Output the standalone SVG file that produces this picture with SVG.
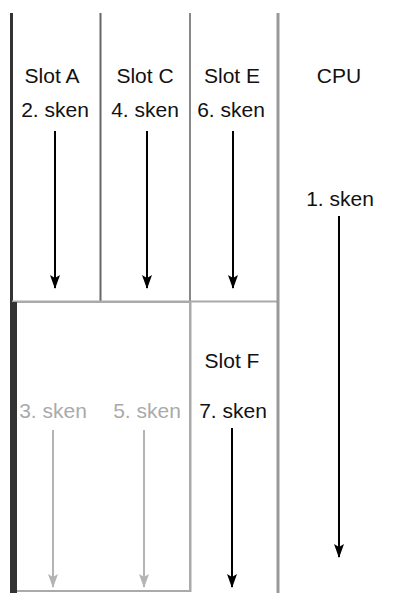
<svg xmlns="http://www.w3.org/2000/svg" width="395" height="593" viewBox="0 0 395 593">
<style>
  text { font-family: "Liberation Sans", Arial, sans-serif; font-size: 21px; text-anchor: middle; fill: #111; }
  .grey { fill: #aaa; }
  .arr { stroke: #000; stroke-width: 2; fill: none; }
  .arrg { stroke: #b4b4b4; stroke-width: 2; fill: none; }
</style>
<defs>
  <marker id="ah" markerWidth="14" markerHeight="10" refX="13" refY="5" orient="auto" markerUnits="userSpaceOnUse" viewBox="0 0 14 10">
    <path d="M0,0 L3,5 L0,10 L14,5 Z" fill="#000"/>
  </marker>
  <marker id="ahg" markerWidth="14" markerHeight="10" refX="13" refY="5" orient="auto" markerUnits="userSpaceOnUse" viewBox="0 0 14 10">
    <path d="M0,0 L3,5 L0,10 L14,5 Z" fill="#b4b4b4"/>
  </marker>
</defs>
<rect width="395" height="593" fill="#fff"/>
<g id="lower-box">
  <rect x="16" y="302" width="174" height="289" fill="none" stroke="#aaa" stroke-width="2"/>
  <text class="grey" x="53" y="418">3. sken</text>
  <text class="grey" x="147" y="418">5. sken</text>
</g>
<g id="slot-a">
  <line x1="11.5" y1="13" x2="11.5" y2="302" stroke="#333" stroke-width="3"/>
  <text x="52" y="83">Slot A</text>
  <text x="55" y="117">2. sken</text>
</g>
<g id="slot-c">
  <line x1="100.5" y1="13" x2="100.5" y2="302" stroke="#666" stroke-width="2"/>
  <text x="145" y="83">Slot C</text>
  <text x="145" y="117">4. sken</text>
</g>
<g id="slot-e">
  <line x1="190" y1="13" x2="190" y2="302" stroke="#888" stroke-width="2"/>
  <line x1="12" y1="301.5" x2="278" y2="301.5" stroke="#aaa" stroke-width="2"/>
  <text x="232" y="83">Slot E</text>
  <text x="231" y="117">6. sken</text>
</g>
<g id="slot-f">
  <line x1="190.5" y1="302" x2="190.5" y2="592" stroke="#aaa" stroke-width="2"/>
  <text x="232" y="368">Slot F</text>
  <text x="233" y="418">7. sken</text>
</g>
<g id="cpu">
  <line x1="278" y1="13" x2="278" y2="593" stroke="#999" stroke-width="3"/>
  <text x="339" y="83">CPU</text>
  <text x="340" y="206">1. sken</text>
</g>
<g id="left-bar">
  <rect x="10" y="302" width="7" height="291" fill="#333"/>
</g>
<g id="connectors">
  <line class="arr" x1="55" y1="131" x2="55" y2="288" marker-end="url(#ah)"/>
  <line class="arr" x1="147" y1="131" x2="147" y2="288" marker-end="url(#ah)"/>
  <line class="arr" x1="233" y1="131" x2="233" y2="288" marker-end="url(#ah)"/>
  <line class="arr" x1="339" y1="216" x2="339" y2="557" marker-end="url(#ah)"/>
  <line class="arr" x1="232" y1="428" x2="232" y2="587" marker-end="url(#ah)"/>
  <line class="arrg" x1="53" y1="430" x2="53" y2="587" marker-end="url(#ahg)"/>
  <line class="arrg" x1="144" y1="430" x2="144" y2="587" marker-end="url(#ahg)"/>
</g>
</svg>
